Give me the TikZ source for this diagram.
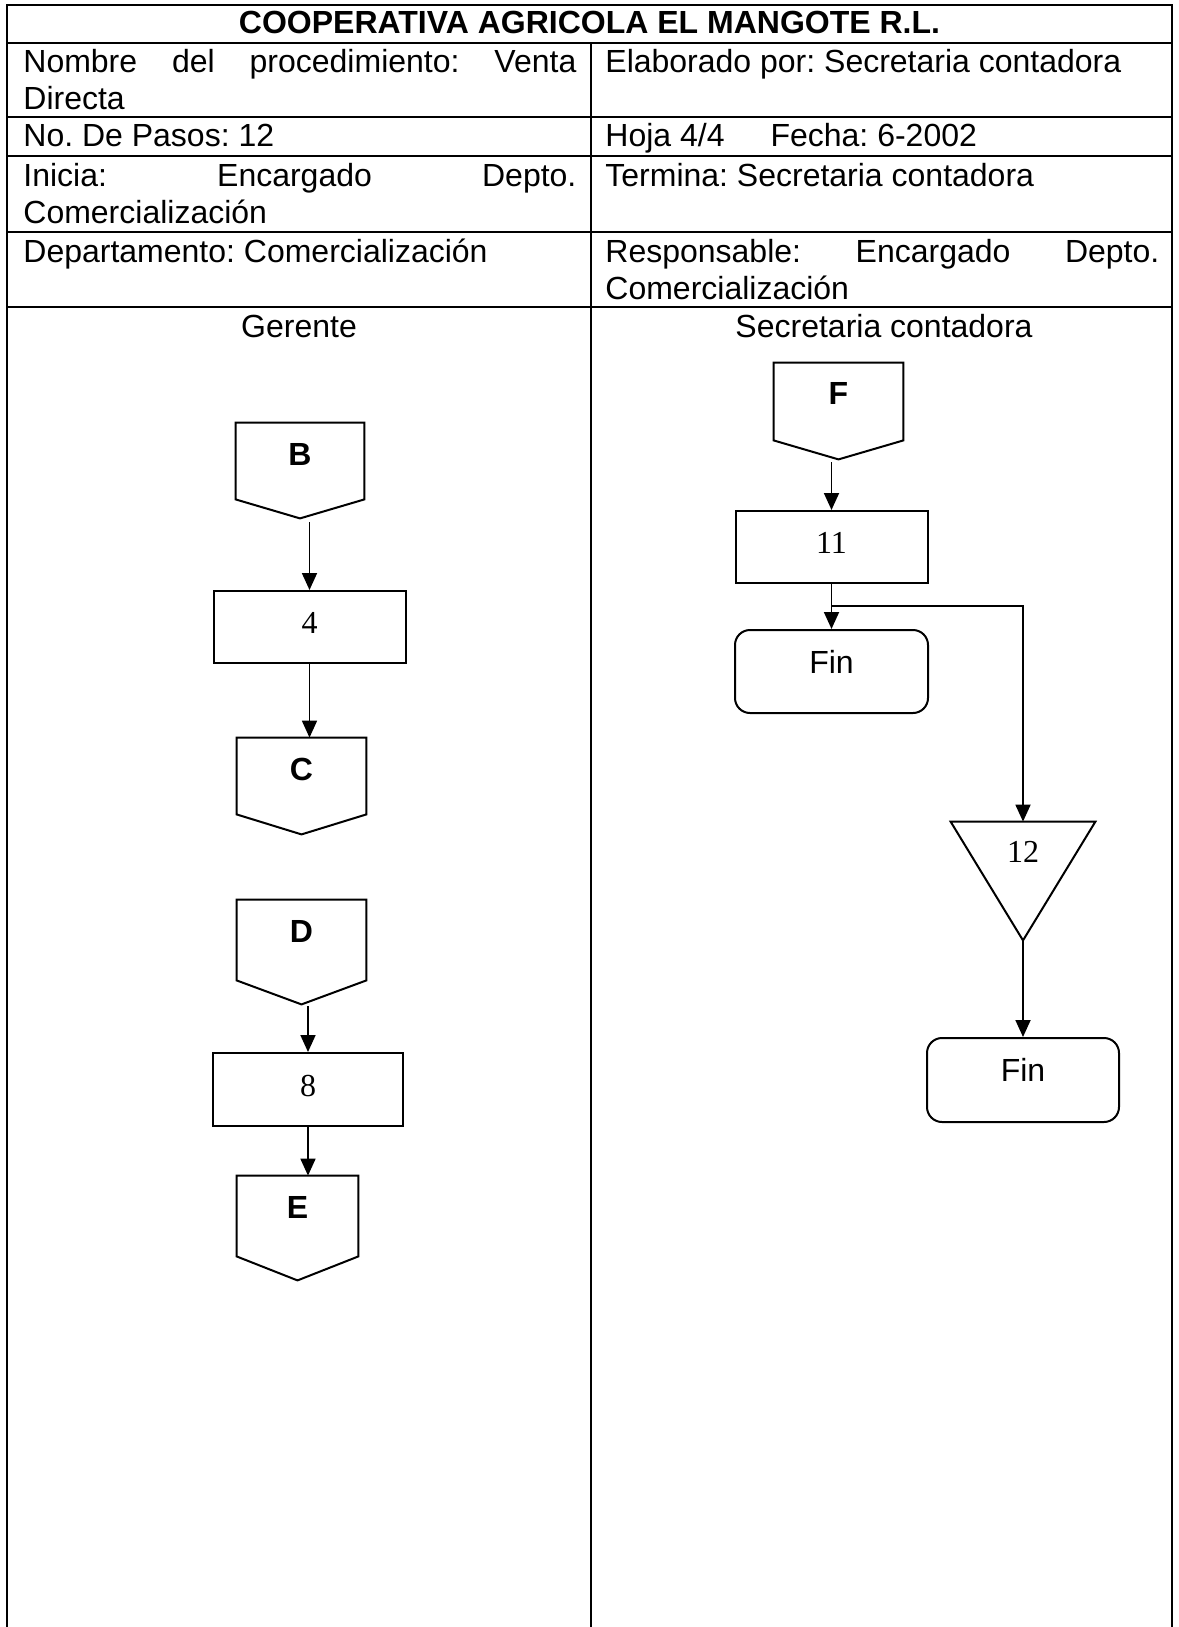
\documentclass[tikz,border=0pt]{standalone}
\usepackage{fontspec}
\setmainfont{Liberation Sans}
\newfontfamily\seriffont{Liberation Serif}
\usetikzlibrary{arrows.meta,calc}
\frenchspacing
\begin{document}
\begin{tikzpicture}[x=0.5pt,y=-0.5pt,
  gridline/.style={line width=1.2pt,line cap=rect},
  hdr/.style={anchor=base west,inner sep=0pt,font=\fontsize{16}{18.4}\selectfont},
  hdrc/.style={anchor=base,inner sep=0pt,font=\fontsize{16}{18.4}\selectfont},
  stepbox/.style={draw,line width=1pt,rectangle,inner sep=0pt,minimum width=96pt,minimum height=36pt,
     font=\seriffont\fontsize{16}{18}\selectfont,text height=10.8pt,text depth=4pt},
  pent/.style={rectangle,inner sep=0pt,font=\bfseries\fontsize{16}{18}\selectfont,text height=11.5pt},
  finbox/.style={draw,line width=1pt,rectangle,rounded corners=7.5pt,inner sep=0pt,minimum width=96pt,
     minimum height=42pt,font=\fontsize{16}{18}\selectfont,text height=11.5pt,text depth=10pt},
  shapeline/.style={line width=1pt,line join=miter},
  arr/.style={line width=0.9pt,-{Triangle[length=8.5pt,width=7.5pt]}},
  plainline/.style={line width=0.9pt}
]
\useasboundingbox (0,0) rectangle (1178,1627);
\fill[white] (0,0) rectangle (1178,1627);

% table grid
\coordinate (TL) at (7,5);
\coordinate (TR) at (1172,5);
\draw[gridline] (7,1627) -- (TL) -- (TR) -- (1172,1627);
\draw[gridline] (7,43) -- (1172,43);
\draw[gridline] (7,117) -- (1172,117);
\draw[gridline] (7,156) -- (1172,156);
\draw[gridline] (7,232) -- (1172,232);
\draw[gridline] (7,307) -- (1172,307);
\draw[gridline] (591,43) -- (591,1627);

% header texts
\node[hdrc,font=\bfseries\fontsize{16}{18.4}\selectfont] (title) at (589.5,34) {COOPERATIVA AGRICOLA EL MANGOTE R.L.};
\node[hdr] (nom1) at (23,73) {\makebox[276.5pt][s]{Nombre del procedimiento: Venta}};
\node[hdr] (nom2) at (23,110) {Directa};
\node[hdr] (elab) at (605,73) {Elaborado por: Secretaria contadora};
\node[hdr] (pasos) at (23,147) {No. De Pasos: 12};
\node[hdr] (hoja) at (605,147) {Hoja 4/4\hspace*{23pt}Fecha: 6-2002};
\node[hdr] (ini1) at (23,186) {\makebox[276.5pt][s]{Inicia: Encargado Depto.}};
\node[hdr] (ini2) at (23,223) {Comercialización};
\node[hdr] (term) at (605,186) {Termina: Secretaria contadora};
\node[hdr] (dep) at (23,262) {Departamento: Comercialización};
\node[hdr] (resp1) at (605,262) {\makebox[277pt][s]{Responsable: Encargado Depto.}};
\node[hdr] (resp2) at (605,299) {Comercialización};
\node[hdrc] (lane1) at (299,337) {Gerente};
\node[hdrc] (lane2) at (884,337) {Secretaria contadora};

% left lane
\node[pent,minimum width=64pt,minimum height=38pt,text depth=7pt] (B) at (300,461) {B};
\coordinate (Btip) at ($(B.south)+(0,19)$);
\draw[shapeline] (B.north west) -- (B.north east) -- (B.south east) -- (Btip) -- (B.south west) -- cycle;
\coordinate (Bout) at ($(Btip)+(0,4)$);

\node[stepbox] (n4) at (309.5,627) {4};

\node[pent,minimum width=64.5pt,minimum height=38pt,text depth=7pt] (C) at (301.5,776) {C};
\coordinate (Ctip) at ($(C.south)+(0,20)$);
\draw[shapeline] (C.north west) -- (C.north east) -- (C.south east) -- (Ctip) -- (C.south west) -- cycle;

\node[pent,minimum width=64.5pt,minimum height=40pt,text depth=9pt] (D) at (301.5,940) {D};
\coordinate (Dtip) at ($(D.south)+(0,24)$);
\draw[shapeline] (D.north west) -- (D.north east) -- (D.south east) -- (Dtip) -- (D.south west) -- cycle;
\coordinate (Dout) at ($(Dtip)+(0,2)$);

\node[stepbox,minimum width=95pt,minimum height=36.5pt] (n8) at (308,1089.5) {8};

\node[pent,minimum width=60.5pt,minimum height=40pt,text depth=9pt] (E) at (297.5,1216) {E};
\coordinate (Etip) at ($(E.south)+(0,24)$);
\draw[shapeline] (E.north west) -- (E.north east) -- (E.south east) -- (Etip) -- (E.south west) -- cycle;

\draw[arr] (Bout -| n4.north) -- (n4.north);
\draw[arr] (n4.south) -- (n4.south |- C.north);
\draw[arr] (Dout -| n8.north) -- (n8.north);
\draw[arr] (n8.south) -- (n8.south |- E.north);

% right lane
\node[pent,minimum width=64.5pt,minimum height=38.5pt,text depth=9pt] (F) at (838.5,401.5) {F};
\coordinate (Ftip) at ($(F.south)+(0,19)$);
\draw[shapeline] (F.north west) -- (F.north east) -- (F.south east) -- (Ftip) -- (F.south west) -- cycle;
\coordinate (Fout) at ($(Ftip)+(0,3)$);

\node[stepbox] (n11) at (831.5,547) {11};
\node[finbox,minimum width=96.5pt,minimum height=41.5pt] (fin1) at (831.5,671.5) {Fin};

\node[rectangle,inner sep=0pt,minimum width=72pt,minimum height=59pt,
      font=\seriffont\fontsize{16}{18}\selectfont,text height=10.8pt,text depth=29pt] (T) at (1023,881) {12};
\draw[shapeline] (T.north west) -- (T.north east) -- (T.south) -- cycle;

\node[finbox] (fin2) at (1023,1080) {Fin};

\coordinate (J) at (831.5,606);
\draw[arr] (Fout -| n11.north) -- (n11.north);
\draw[arr] (n11.south) -- (fin1.north);
\draw[arr] (J) -| (T.north);
\draw[arr] (T.south) -- (fin2.north);
\end{tikzpicture}
\end{document}
